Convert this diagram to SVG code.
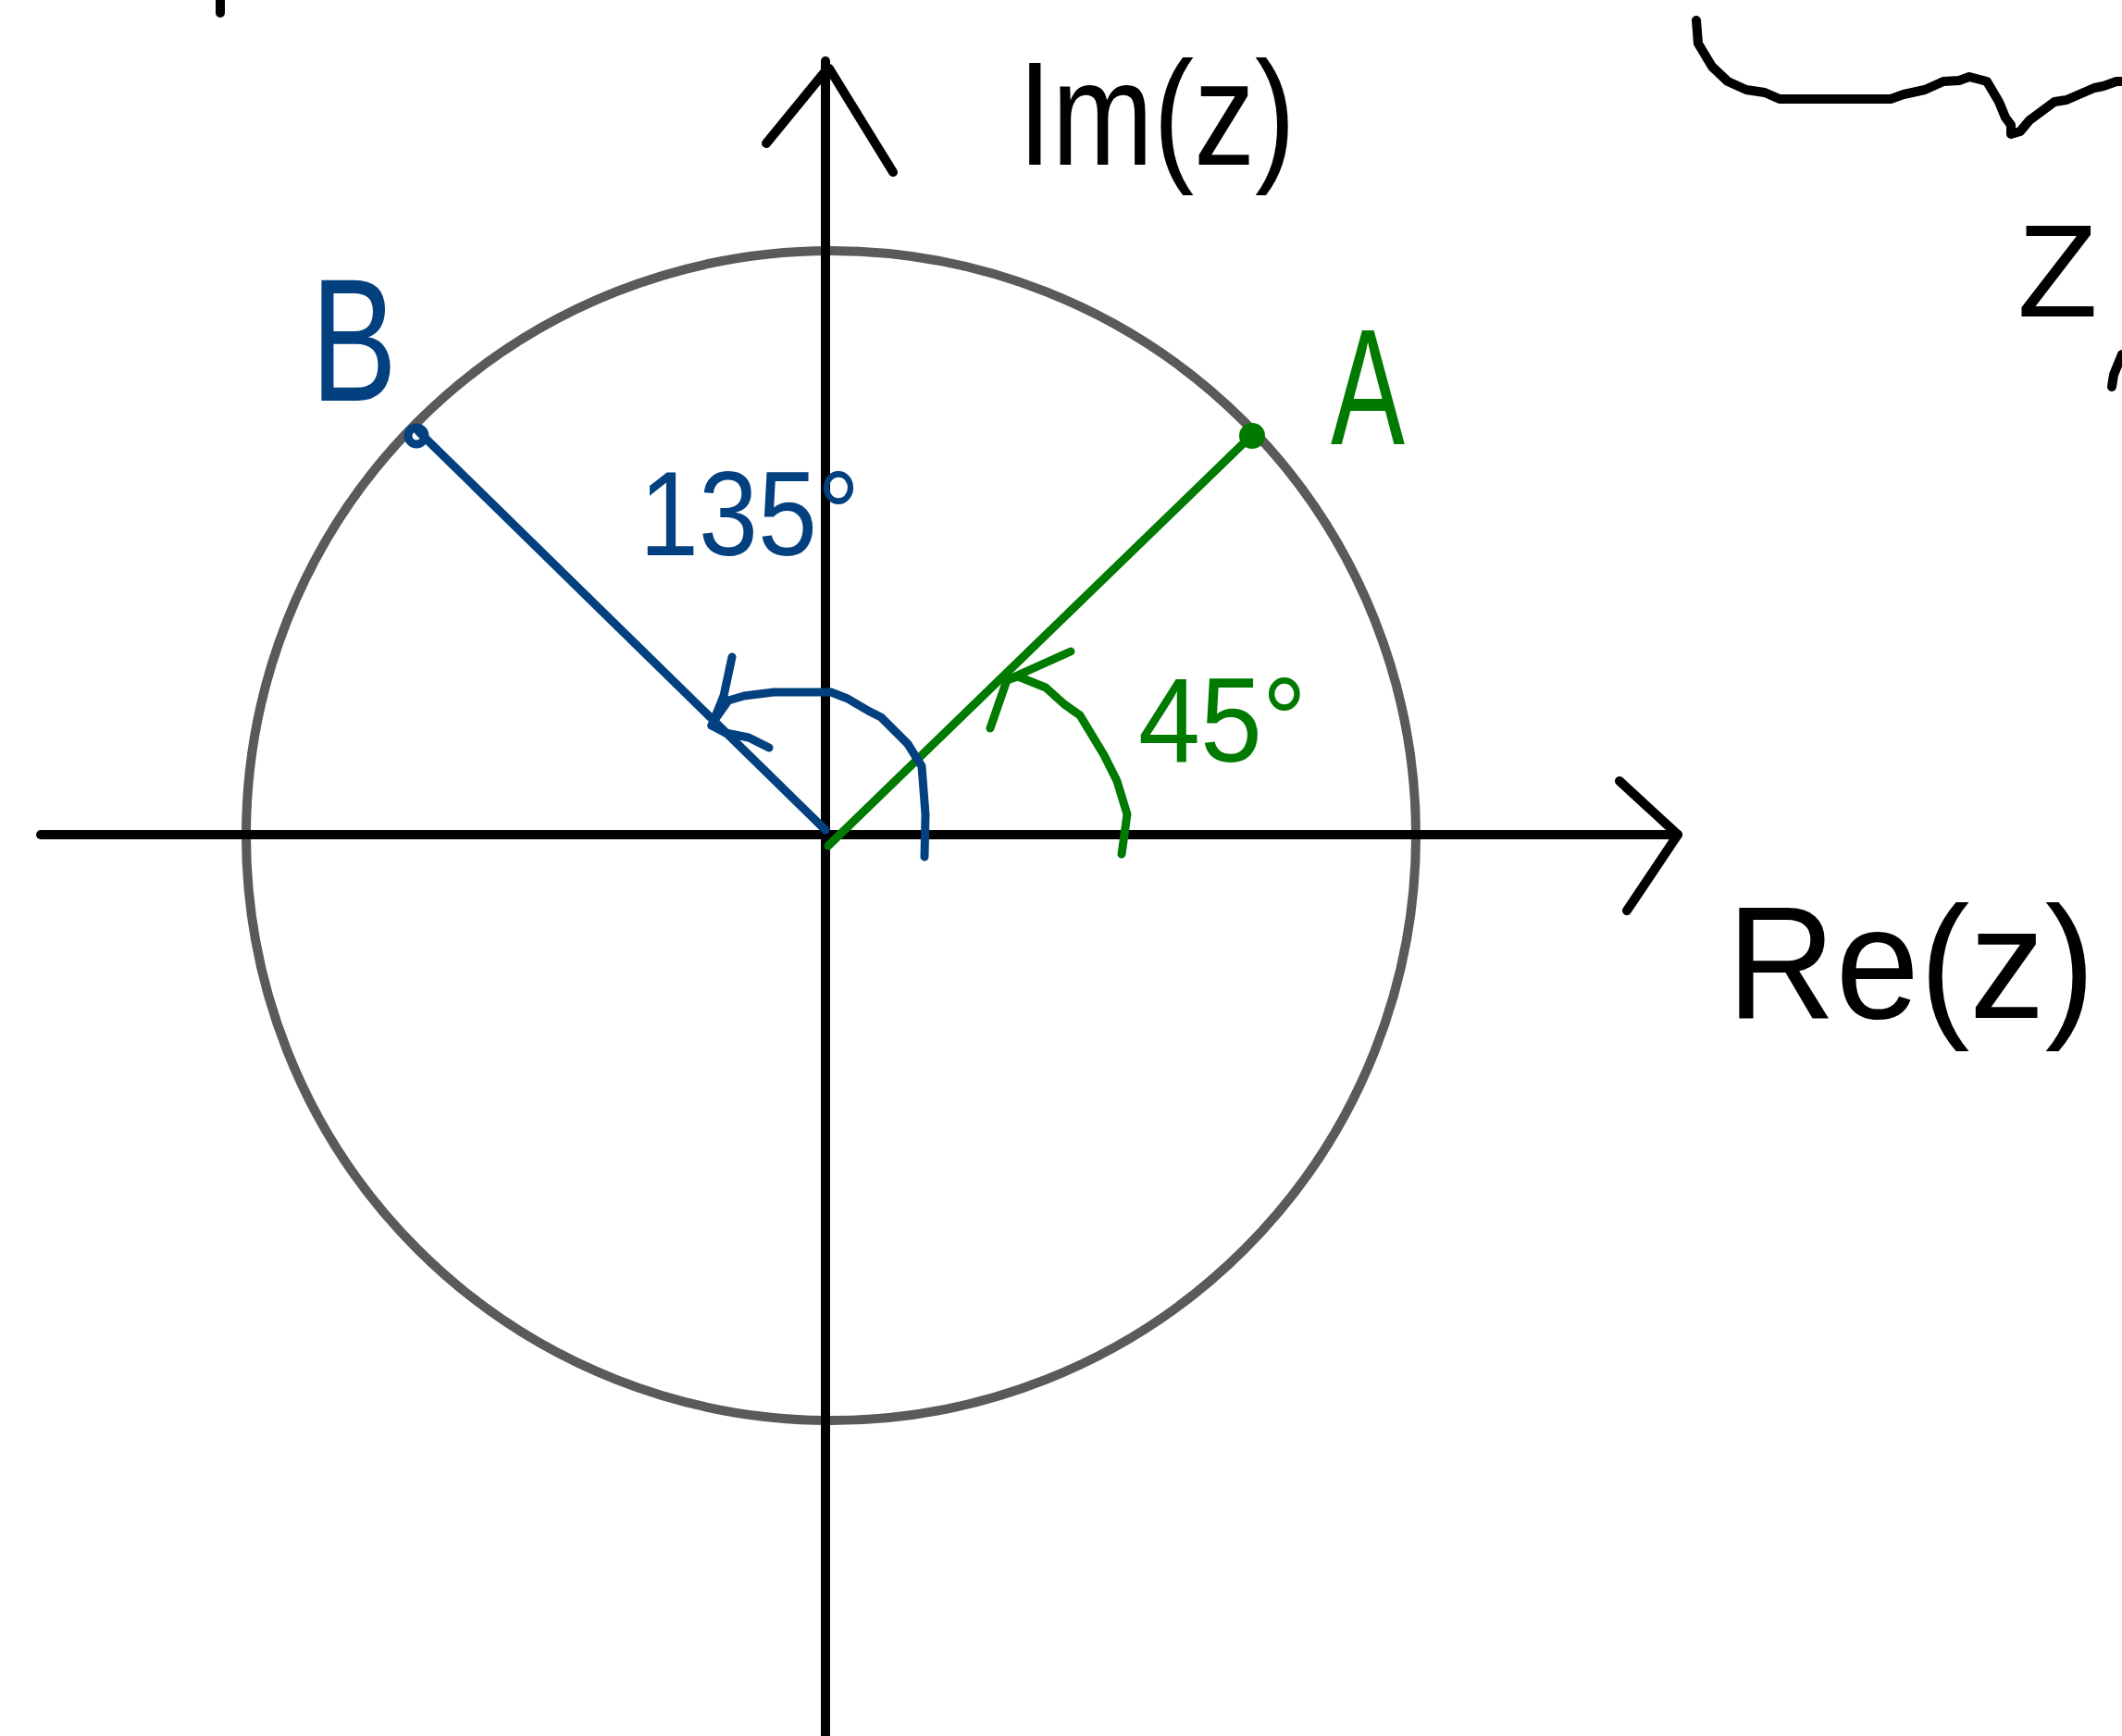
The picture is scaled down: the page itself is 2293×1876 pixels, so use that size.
<svg xmlns="http://www.w3.org/2000/svg" width="2293" height="1876" viewBox="0 0 2293 1876">
<style>
.ax{stroke:#000;stroke-width:10;fill:none;stroke-linecap:round;stroke-linejoin:round}
.bl{stroke:#02407f;stroke-width:9;fill:none;stroke-linecap:round;stroke-linejoin:round}
.gr{stroke:#007a00;stroke-width:9;fill:none;stroke-linecap:round;stroke-linejoin:round}
.t{font-family:"Liberation Sans",Arial,sans-serif}
.tk{fill:#000}
.tb{fill:#02407f}
.tg{fill:#007a00}
</style>
<rect width="2293" height="1876" fill="#fff"/>
<g id="unit-circle"><circle cx="898" cy="903" r="632" fill="none" stroke="#5a5a5a" stroke-width="10"/></g>
<g id="connectors">
<line class="ax" x1="44" y1="902" x2="1813" y2="902"/>
<polyline class="ax" points="1750,844 1813,902 1758,984"/>
<line class="ax" x1="892" y1="66" x2="892" y2="1880"/>
<polyline class="ax" points="828,155 891,78"/>
<polyline class="ax" points="896,74 965,186"/>
<line class="bl" x1="892" y1="897" x2="452" y2="466"/>
<line class="gr" x1="895" y1="914" x2="1353" y2="470"/>
<path class="bl" d="M999,926 L1000,880 L996,828 L981,804 L952,775 L938,768 L916,755 L898,748 L836,748 L804,752 L787,757 L773,777 L769,784"/>
<polyline class="bl" points="791,710 782,752 769,784 784,792 809,797 831,808"/>
<path class="gr" d="M1212,923 L1218,880 L1207,844 L1193,816 L1167,773 L1150,761 L1130,743 L1100,731 L1088,735"/>
<polyline class="gr" points="1157,704 1088,735 1070,787"/>
<path class="ax" d="M1833,22 L1835,47 L1850,72 L1867,88 L1887,97 L1907,100 L1923,107 L2043,107 L2057,102 L2080,97 L2100,88 L2117,87 L2128,83 L2147,88 L2160,110 L2167,127 L2173,135 L2173,145 L2183,142 L2193,130 L2220,110 L2233,108 L2263,95 L2273,93 L2287,88 L2300,88"/>
<path class="ax" d="M238,0 L238,14"/>
<path class="ax" d="M2293,383 L2284,405 L2282,418"/>
</g>
<g id="point-B">
<circle cx="450" cy="471" r="9" fill="none" stroke="#02407f" stroke-width="9"/>
<text class="t tb" x="336" y="433" font-size="190" textLength="93" lengthAdjust="spacingAndGlyphs">B</text>
</g>
<g id="point-A">
<circle cx="1353" cy="471" r="14" fill="#007a00"/>
<text class="t tg" x="1438" y="480" font-size="178" textLength="80" lengthAdjust="spacingAndGlyphs">A</text>
</g>
<g id="label-135"><text class="t tb" x="691" y="600" font-size="130" textLength="238" lengthAdjust="spacingAndGlyphs">135°</text></g>
<g id="label-45"><text class="t tg" x="1230" y="823" font-size="130" textLength="182" lengthAdjust="spacingAndGlyphs">45°</text></g>
<g id="label-im"><text class="t tk" x="1100" y="178" font-size="160" textLength="300" lengthAdjust="spacingAndGlyphs">Im(z)</text></g>
<g id="label-re"><text class="t tk" x="1866" y="1100" font-size="172" textLength="398" lengthAdjust="spacingAndGlyphs">Re(z)</text></g>
<g id="label-z"><text class="t tk" x="2180" y="342" font-size="142">Z</text></g>
</svg>
